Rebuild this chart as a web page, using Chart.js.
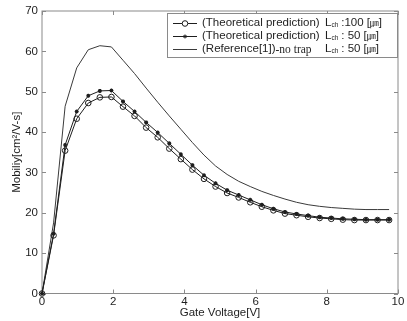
<!DOCTYPE html>
<html>
<head>
<meta charset="utf-8">
<script src="https://cdn.jsdelivr.net/npm/chart.js@4.4.0/dist/chart.umd.min.js"></script>
<style>
  html, body { margin: 0; padding: 0; background: #fff; }
</style>
</head>
<body>
<canvas id="chart" width="407" height="321"></canvas>
<script>
// gate voltage samples [V]
const gateVoltage = [0, 0.325, 0.65, 0.975, 1.3, 1.625, 1.95, 2.275, 2.6, 2.925, 3.25,
  3.575, 3.9, 4.225, 4.55, 4.875, 5.2, 5.525, 5.85, 6.175, 6.5, 6.825, 7.15, 7.475,
  7.8, 8.125, 8.45, 8.775, 9.1, 9.425, 9.75];

// mobility [cm2/V-s]
const mobilityL100 = [0, 14.4, 35.4, 43.3, 47.2, 48.6, 48.7, 46.3, 44.0, 41.1, 38.7,
  35.9, 33.3, 30.7, 28.4, 26.5, 24.9, 23.8, 22.6, 21.5, 20.6, 19.8, 19.4, 19.0,
  18.7, 18.5, 18.3, 18.2, 18.2, 18.2, 18.2];
const mobilityL50 = [0, 14.8, 36.8, 45.1, 49.0, 50.2, 50.3, 47.6, 45.1, 42.4, 39.9,
  37.2, 34.5, 31.8, 29.3, 27.3, 25.6, 24.4, 23.2, 22.0, 21.0, 20.2, 19.7, 19.3,
  18.9, 18.7, 18.5, 18.4, 18.3, 18.3, 18.3];
const mobilityRef = [0, 17.5, 46.4, 55.9, 60.4, 61.4, 61.1, 57.8, 54.5, 50.9, 47.4,
  44.0, 40.7, 37.4, 34.3, 31.6, 29.5, 27.8, 26.5, 25.3, 24.3, 23.4, 22.6, 22.0,
  21.6, 21.3, 21.1, 20.9, 20.8, 20.8, 20.8];

const xTicks = [0, 2, 4, 6, 8, 10];
const yTicks = [0, 10, 20, 30, 40, 50, 60, 70];

const seriesNames = ['(Theoretical prediction)', '(Theoretical prediction)', '(Reference[1])'];
const seriesExtra = ['', '', '-no trap'];
const lengthValues = [':100', ': 50', ': 50'];

const FONT = "'Liberation Sans', Arial, sans-serif";
const INK = '#1e1e1e';

const toPoints = ys => gateVoltage.map((x, i) => ({ x: x, y: ys[i] }));

// MATLAB-like box with inward ticks
const framePlugin = {
  id: 'frame',
  beforeDatasetsDraw(chart) {
    const { ctx, chartArea: a, scales } = chart;
    ctx.save();
    ctx.strokeStyle = '#8a8a8a';
    ctx.lineWidth = 1;
    ctx.strokeRect(a.left, a.top, a.right - a.left, a.bottom - a.top);
    ctx.beginPath();
    xTicks.forEach(v => {
      const px = Math.round(scales.x.getPixelForValue(v)) + 0.5;
      ctx.moveTo(px, a.bottom); ctx.lineTo(px, a.bottom - 4);
      ctx.moveTo(px, a.top); ctx.lineTo(px, a.top + 4);
    });
    yTicks.forEach(v => {
      const py = Math.round(scales.y.getPixelForValue(v)) + 0.5;
      ctx.moveTo(a.left, py); ctx.lineTo(a.left + 4, py);
      ctx.moveTo(a.right, py); ctx.lineTo(a.right - 4, py);
    });
    ctx.stroke();
    ctx.restore();
  },
  afterDraw(chart) {
    // legend box, top right
    const { ctx } = chart;
    const box = { x: 167, y: 13, w: 230, h: 44 };
    ctx.save();
    ctx.fillStyle = '#fff';
    ctx.fillRect(box.x, box.y, box.w, box.h);
    ctx.strokeStyle = '#8a8a8a';
    ctx.lineWidth = 1;
    ctx.strokeRect(box.x + 0.5, box.y + 0.5, box.w, box.h);

    chart.data.datasets.forEach((ds, i) => {
      const y = 23 + i * 13;
      ctx.strokeStyle = ds.borderColor;
      ctx.lineWidth = 1;
      ctx.beginPath();
      ctx.moveTo(173, y + 0.5); ctx.lineTo(197, y + 0.5);
      ctx.stroke();
      if (ds.pointRadius > 0) {
        Chart.helpers.drawPoint(ctx, {
          pointStyle: ds.pointStyle, radius: ds.pointRadius, borderWidth: ds.pointBorderWidth
        }, 185, y + 0.5);
      }
      ctx.fillStyle = INK;
      ctx.textBaseline = 'middle';
      ctx.font = '11.5px ' + FONT;
      ctx.fillText(seriesNames[i], 202, y);
      let tx = 202 + ctx.measureText(seriesNames[i]).width;
      if (seriesExtra[i]) {
        ctx.font = "11.5px 'Liberation Serif', serif";
        ctx.fillText(seriesExtra[i], tx, y + 1);
      }
      // L with subscript ch
      tx = 325;
      ctx.font = '11.5px ' + FONT;
      ctx.fillText('L', tx, y);
      tx += ctx.measureText('L').width;
      ctx.font = '6.5px ' + FONT;
      ctx.fillText('ch', tx, y + 2);
      tx += ctx.measureText('ch').width + 3;
      ctx.font = '11.5px ' + FONT;
      ctx.fillText(lengthValues[i], tx, y);
      tx += ctx.measureText(lengthValues[i]).width + 3;
      ctx.fillText('[', tx, y);
      tx += ctx.measureText('[').width;
      ctx.font = "9px 'Noto Sans CJK KR', sans-serif";
      ctx.fillText('\u339B', tx, y);
      tx += ctx.measureText('\u339B').width;
      ctx.font = '11.5px ' + FONT;
      ctx.fillText(']', tx, y);
    });
    ctx.restore();
  }
};

new Chart(document.getElementById('chart').getContext('2d'), {
  type: 'line',
  data: {
    datasets: [
      {
        label: 'L100',
        data: toPoints(mobilityL100),
        borderColor: INK,
        borderWidth: 1,
        pointStyle: 'circle',
        pointRadius: 2.8,
        pointBorderWidth: 1,
        pointBackgroundColor: 'rgba(0,0,0,0)',
        pointBorderColor: INK
      },
      {
        label: 'L50',
        data: toPoints(mobilityL50),
        borderColor: INK,
        borderWidth: 1,
        pointStyle: 'star',
        pointRadius: 2,
        pointBorderWidth: 1.2,
        pointBorderColor: INK
      },
      {
        label: 'Ref',
        data: toPoints(mobilityRef),
        borderColor: '#3a3a3a',
        borderWidth: 1,
        pointRadius: 0
      }
    ]
  },
  options: {
    responsive: false,
    animation: false,
    clip: false,
    layout: { padding: { top: 11, right: 9, left: 0, bottom: 0 } },
    plugins: { legend: { display: false }, tooltip: { enabled: false } },
    scales: {
      x: {
        type: 'linear',
        min: 0,
        max: 10,
        afterBuildTicks: s => { s.ticks = xTicks.map(v => ({ value: v })); },
        afterFit: s => { s.height = 27.5; },
        grid: { display: false, drawTicks: false },
        border: { display: false },
        ticks: { padding: 1, color: INK, font: { family: FONT, size: 11.5 }, maxRotation: 0 },
        title: {
          display: true,
          text: 'Gate Voltage[V]',
          color: INK,
          font: { family: FONT, size: 11.5 },
          padding: { top: 0, bottom: 1 }
        }
      },
      y: {
        min: 0,
        max: 70,
        afterBuildTicks: s => { s.ticks = yTicks.map(v => ({ value: v })); },
        afterFit: s => { s.width = 42; },
        grid: { display: false, drawTicks: false },
        border: { display: false },
        ticks: { padding: 4, color: INK, font: { family: FONT, size: 11.5 } },
        title: {
          display: true,
          text: 'Mobiliy[cm\u00B2/V-s]',
          color: INK,
          font: { family: FONT, size: 11.5 },
          padding: { top: 10, bottom: 0 }
        }
      }
    }
  },
  plugins: [framePlugin]
});
</script>
</body>
</html>
